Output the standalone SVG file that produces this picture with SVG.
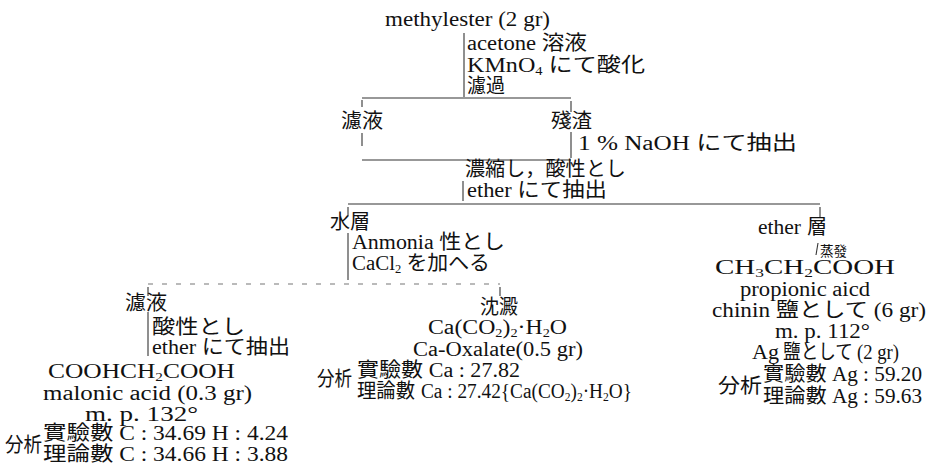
<svg xmlns="http://www.w3.org/2000/svg" width="933" height="464" viewBox="0 0 933 464">
<style>
text{font-family:"Liberation Serif","Noto Sans CJK JP",serif;font-size:20px;fill:#111}
.sm{font-size:14px}
.sub{font-size:12px}
line{stroke:#333;stroke-width:1.1}
.faint{stroke:#777;stroke-dasharray:5 9}
</style>
<rect width="933" height="464" fill="#fff"/>
<g id="connectors">
<line x1="464" y1="33" x2="464" y2="97"/>
<line x1="362" y1="98" x2="571" y2="98"/>
<line x1="362" y1="100" x2="362" y2="107"/>
<line x1="571" y1="101" x2="571" y2="112"/>
<line x1="362" y1="133" x2="362" y2="146"/>
<line x1="571" y1="132" x2="571" y2="158"/>
<line x1="362" y1="160" x2="571" y2="160"/>
<line x1="463" y1="181" x2="463" y2="201"/>
<line x1="348" y1="204" x2="820" y2="204"/>
<line x1="348" y1="207" x2="348" y2="216"/>
<line x1="820" y1="207" x2="820" y2="217"/>
<line x1="348" y1="233" x2="348" y2="280"/>
<line class="faint" x1="148" y1="284" x2="500" y2="284"/>
<line x1="148" y1="287" x2="148" y2="296"/>
<line x1="500" y1="287" x2="500" y2="296"/>
<line x1="148" y1="312" x2="148" y2="356"/>
<line x1="818" y1="243" x2="816" y2="255"/>
</g>
<g id="start">
<text x="385" y="26" textLength="165" lengthAdjust="spacingAndGlyphs">methylester (2 gr)</text>
<text x="467" y="50" textLength="120" lengthAdjust="spacingAndGlyphs">acetone 溶液</text>
<text x="467" y="72" textLength="178" lengthAdjust="spacingAndGlyphs">KMnO<tspan class="sub" dy="3">4</tspan><tspan dy="-3"> にて酸化</tspan></text>
<text x="467" y="93" textLength="38" lengthAdjust="spacingAndGlyphs">濾過</text>
</g>
<g id="filtrate1">
<text x="341" y="128" textLength="42" lengthAdjust="spacingAndGlyphs">濾液</text>
</g>
<g id="residue">
<text x="551" y="128" textLength="41" lengthAdjust="spacingAndGlyphs">殘渣</text>
<text x="578" y="150" textLength="219" lengthAdjust="spacingAndGlyphs">1 % NaOH にて抽出</text>
</g>
<g id="combined">
<text x="465" y="176" textLength="161" lengthAdjust="spacingAndGlyphs">濃縮し，酸性とし</text>
<text x="467" y="197" textLength="140" lengthAdjust="spacingAndGlyphs">ether にて抽出</text>
</g>
<g id="water-layer">
<text x="330" y="229" textLength="40" lengthAdjust="spacingAndGlyphs">水層</text>
<text x="352" y="249" textLength="153" lengthAdjust="spacingAndGlyphs">Anmonia 性とし</text>
<text x="352" y="270" textLength="138" lengthAdjust="spacingAndGlyphs">CaCl<tspan class="sub" dy="3">2</tspan><tspan dy="-3"> を加へる</tspan></text>
</g>
<g id="ether-layer">
<text x="758" y="234" textLength="43" lengthAdjust="spacingAndGlyphs">ether</text>
<text x="807" y="234" textLength="20" lengthAdjust="spacingAndGlyphs">層</text>
<text class="sm" x="820" y="256" textLength="27" lengthAdjust="spacingAndGlyphs">蒸發</text>
<text x="715" y="274" textLength="180" lengthAdjust="spacingAndGlyphs">CH<tspan class="sub" dy="2.5">3</tspan><tspan dy="-2.5">CH</tspan><tspan class="sub" dy="2.5">2</tspan><tspan dy="-2.5">COOH</tspan></text>
<text x="740" y="296" textLength="130" lengthAdjust="spacingAndGlyphs">propionic aicd</text>
<text x="712" y="317" textLength="214" lengthAdjust="spacingAndGlyphs">chinin 鹽として (6 gr)</text>
<text x="775" y="338" textLength="95" lengthAdjust="spacingAndGlyphs">m. p. 112°</text>
<text x="752" y="359" textLength="27" lengthAdjust="spacingAndGlyphs">Ag</text>
<text x="783" y="359" textLength="70" lengthAdjust="spacingAndGlyphs">鹽として</text>
<text x="857" y="359" textLength="42" lengthAdjust="spacingAndGlyphs">(2 gr)</text>
<text x="718" y="393" textLength="44" lengthAdjust="spacingAndGlyphs">分析</text>
<text x="763" y="381" textLength="159" lengthAdjust="spacingAndGlyphs">實驗數 Ag : 59.20</text>
<text x="763" y="403" textLength="159" lengthAdjust="spacingAndGlyphs">理論數 Ag : 59.63</text>
</g>
<g id="filtrate2">
<text x="125" y="310" textLength="42" lengthAdjust="spacingAndGlyphs">濾液</text>
<text x="152" y="334" textLength="93" lengthAdjust="spacingAndGlyphs">酸性とし</text>
<text x="152" y="354" textLength="138" lengthAdjust="spacingAndGlyphs">ether にて抽出</text>
<text x="48" y="378" textLength="187" lengthAdjust="spacingAndGlyphs">COOHCH<tspan class="sub" dy="2.5">2</tspan><tspan dy="-2.5">COOH</tspan></text>
<text x="43" y="400" textLength="209" lengthAdjust="spacingAndGlyphs">malonic acid (0.3 gr)</text>
<text x="85" y="421" textLength="113" lengthAdjust="spacingAndGlyphs">m. p. 132°</text>
<text x="5" y="452" textLength="37" lengthAdjust="spacingAndGlyphs">分析</text>
<text x="43" y="440" textLength="245" lengthAdjust="spacingAndGlyphs">實驗數 C : 34.69 H : 4.24</text>
<text x="43" y="461" textLength="245" lengthAdjust="spacingAndGlyphs">理論數 C : 34.66 H : 3.88</text>
</g>
<g id="precipitate">
<text x="480" y="314" textLength="38" lengthAdjust="spacingAndGlyphs">沈澱</text>
<text x="428" y="334" textLength="139" lengthAdjust="spacingAndGlyphs">Ca(CO<tspan class="sub" dy="2.5">2</tspan><tspan dy="-2.5">)</tspan><tspan class="sub" dy="2.5">2</tspan><tspan dy="-2.5">·H</tspan><tspan class="sub" dy="2.5">2</tspan><tspan dy="-2.5">O</tspan></text>
<text x="413" y="356" textLength="170" lengthAdjust="spacingAndGlyphs">Ca-Oxalate(0.5 gr)</text>
<text x="317" y="386" textLength="35" lengthAdjust="spacingAndGlyphs">分析</text>
<text x="357" y="377" textLength="163" lengthAdjust="spacingAndGlyphs">實驗數 Ca : 27.82</text>
<text x="357" y="398" textLength="58" lengthAdjust="spacingAndGlyphs">理論數</text>
<text x="421" y="398" textLength="211" lengthAdjust="spacingAndGlyphs">Ca : 27.42{Ca(CO<tspan class="sub" dy="2.5">2</tspan><tspan dy="-2.5">)</tspan><tspan class="sub" dy="2.5">2</tspan><tspan dy="-2.5">·H</tspan><tspan class="sub" dy="2.5">2</tspan><tspan dy="-2.5">O}</tspan></text>
</g>
</svg>
